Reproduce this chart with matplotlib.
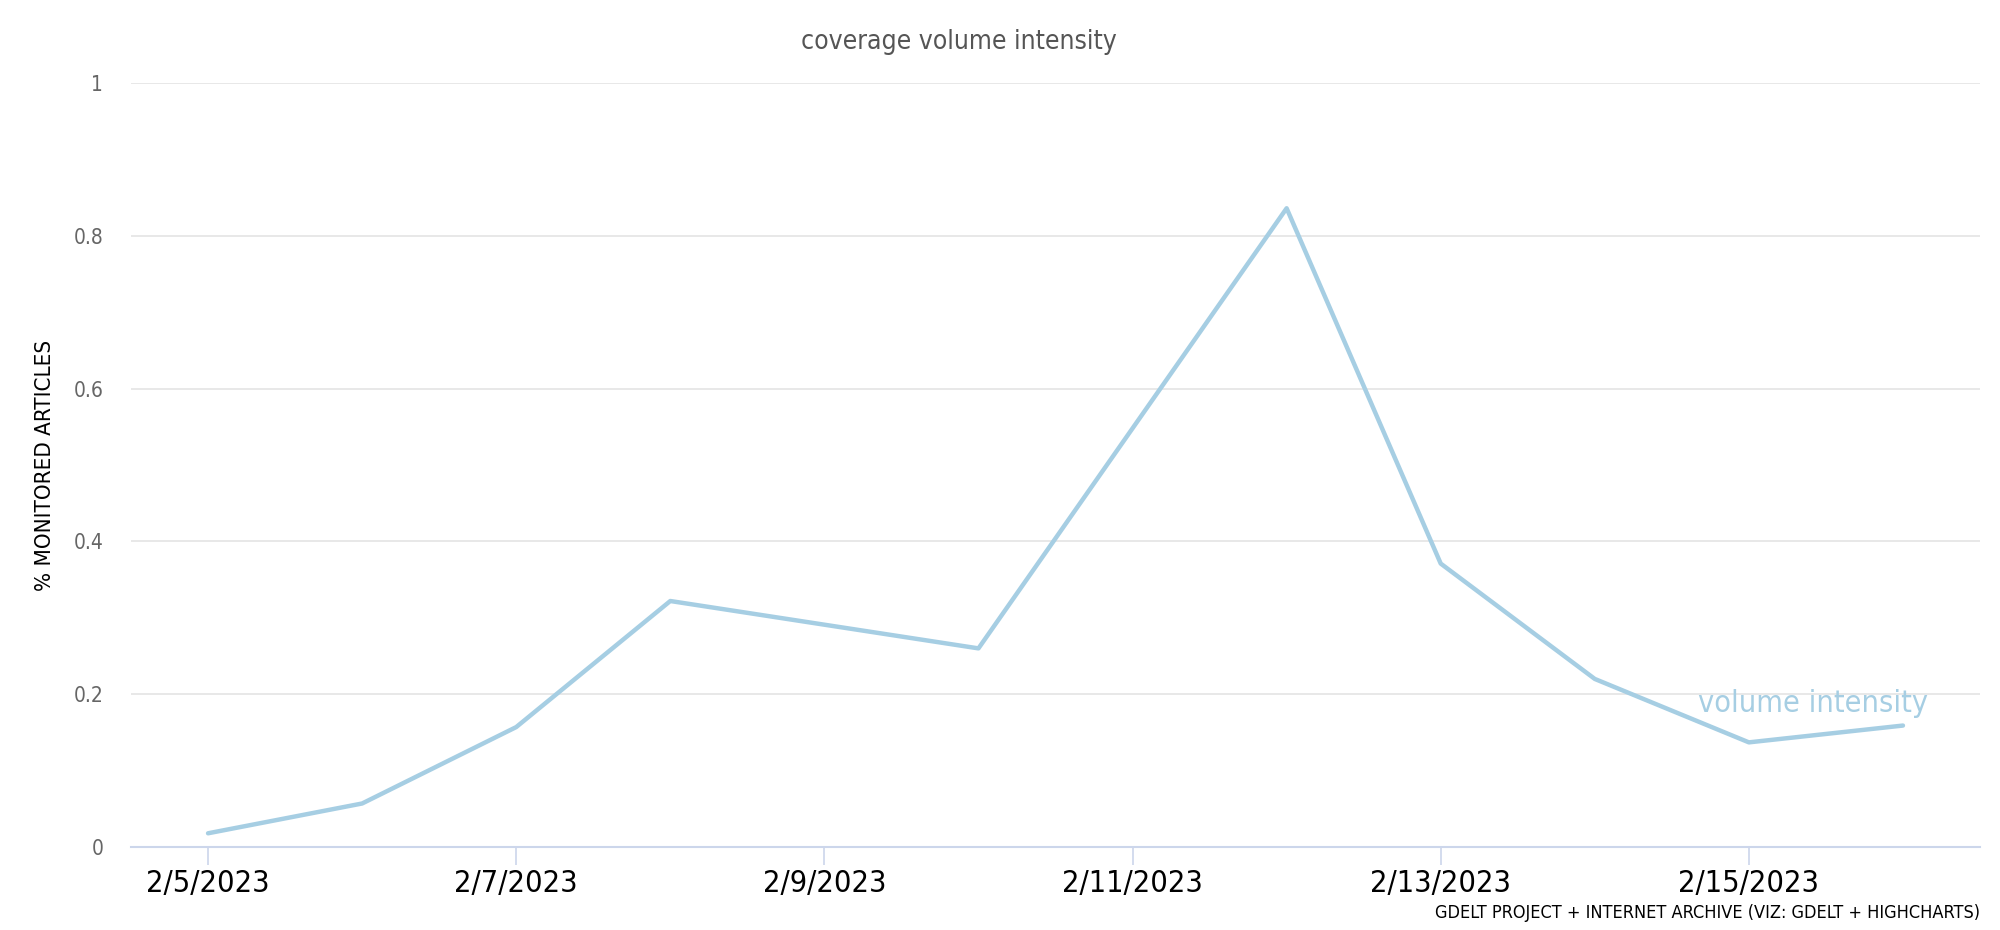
import matplotlib
matplotlib.use("Agg")
import matplotlib.pyplot as plt
from matplotlib import font_manager
import datetime as dt

# data
dates = ["2023-02-05", "2023-02-06", "2023-02-07", "2023-02-08", "2023-02-09", "2023-02-10",
         "2023-02-11", "2023-02-12", "2023-02-13", "2023-02-14", "2023-02-15", "2023-02-16"]
volume_intensity = [0.018, 0.057, 0.157, 0.322, 0.291, 0.260,
                    0.548, 0.836, 0.371, 0.220, 0.137, 0.159]
tick_dates = ["2023-02-05", "2023-02-07", "2023-02-09", "2023-02-11", "2023-02-13", "2023-02-15"]
y_ticks = [0, 0.2, 0.4, 0.6, 0.8, 1]
y_tick_labels = ["0", "0.2", "0.4", "0.6", "0.8", "1"]

# look for a narrow face, the original uses a condensed display font
cands = [f for f in font_manager.fontManager.ttflist
         if ("Condensed" in f.name or "Narrow" in f.name or f.stretch in ("condensed", "semi-condensed", 500 - 100))
         and f.style == "normal"]
narrow_fp = None
for f in cands:
    if f.weight in ("normal", 400, "regular", "book"):
        narrow_fp = f.fname
        break
if narrow_fp is None and cands:
    narrow_fp = cands[0].fname

def fp(size):
    if narrow_fp:
        return font_manager.FontProperties(fname=narrow_fp, size=size)
    return font_manager.FontProperties(family="DejaVu Sans", stretch="condensed", size=size)

shrink = 1.0 if narrow_fp else 0.8

line_col = "#a6cee3"

x = [dt.datetime.strptime(d, "%Y-%m-%d") for d in dates]
xt = [dt.datetime.strptime(d, "%Y-%m-%d") for d in tick_dates]

fig = plt.figure(figsize=(20, 9.3), dpi=100)
ax = fig.add_axes([0.0655, 0.0892, 0.9245, 0.8216])

ax.plot(x, volume_intensity, color=line_col, lw=3.2, solid_capstyle="round", solid_joinstyle="round", zorder=3)

ax.set_ylim(0, 1)
ax.set_xlim(x[0] - dt.timedelta(hours=12), x[-1] + dt.timedelta(hours=12))
ax.set_yticks(y_ticks)
ax.set_yticklabels(y_tick_labels, fontproperties=fp(15 * shrink), color="#666666")
ax.set_xticks(xt)
ax.set_xticklabels([f"{d.month}/{d.day}/{d.year}" for d in xt], fontproperties=fp(22 * shrink), color="black")
ax.grid(axis="y", color="#e6e6e6", lw=1.3, zorder=0)
ax.tick_params(axis="y", length=0, pad=20)
ax.tick_params(axis="x", length=13, width=1.2, color="#ccd6eb", pad=3)
for s in ["top", "right", "left"]:
    ax.spines[s].set_visible(False)
ax.spines["bottom"].set_color("#ccd6eb")
ax.spines["bottom"].set_linewidth(1.5)

fig.text(0.0225, 0.5, "% MONITORED ARTICLES", rotation=90, ha="center", va="center",
         fontproperties=fp(16 * shrink), color="black")

fig.text(0.4795, 0.955, "coverage volume intensity", ha="center", va="center",
         fontproperties=fp(19 * shrink), color="#555555")
ax.text(x[-1] - dt.timedelta(hours=14), 0.188, "volume intensity", ha="center", va="center",
        fontproperties=fp(22 * shrink), color=line_col)
fig.text(0.99, 0.018, "GDELT PROJECT + INTERNET ARCHIVE (VIZ: GDELT + HIGHCHARTS)", ha="right",
         va="center", fontproperties=fp(13 * shrink), color="black")

fig.savefig("out.png", dpi=100, facecolor="white")
